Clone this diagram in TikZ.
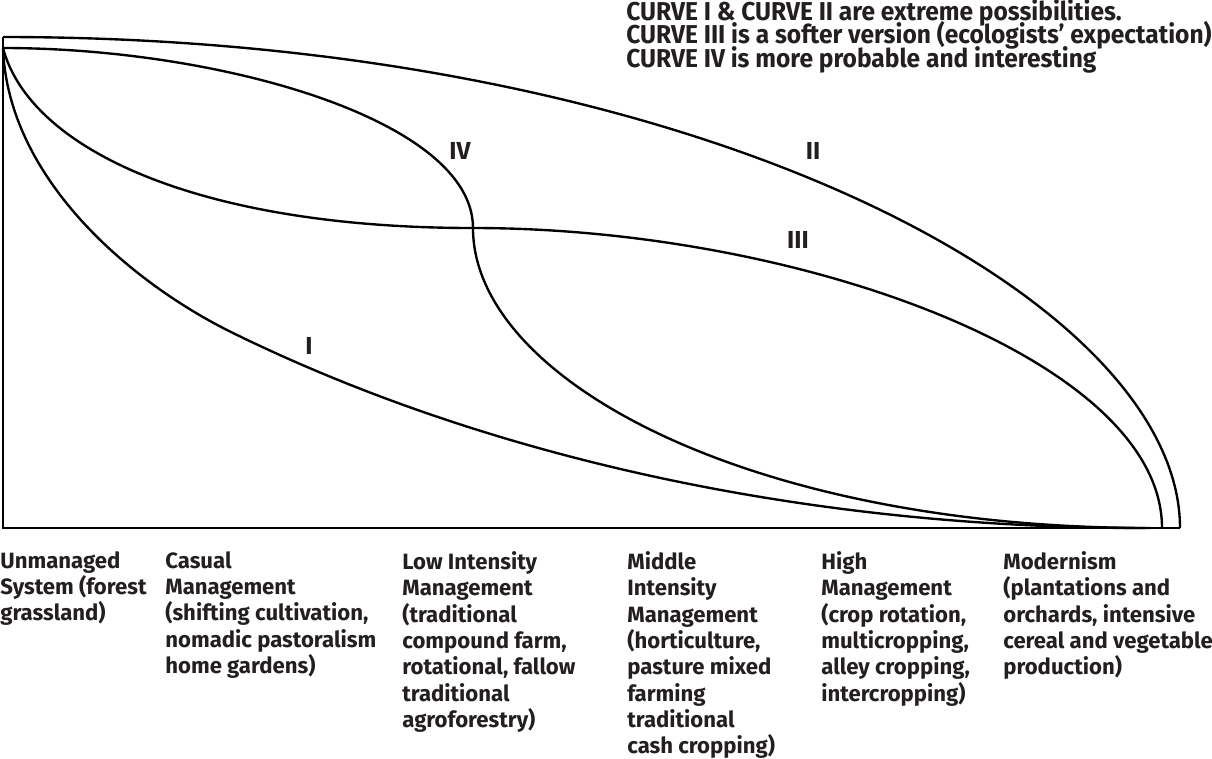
\documentclass[tikz,border=0pt]{standalone}
\usepackage{fontspec}
\setmainfont{Fira Sans}
\newfontfamily\notefont{Fira Sans}[FakeStretch=0.95]
\definecolor{txt}{HTML}{231F20}
\newcommand\mytightlines{\lineskiplimit=-20pt\relax\lineskip=0pt\relax}
\begin{document}
\begin{tikzpicture}[x=0.2mm,y=-0.2mm,
  curve/.style={line width=1.35pt,black},
  axis/.style={line width=1.5pt,black},
  lbl/.style={font=\fontsize{12.6}{15}\selectfont\bfseries,align=left,anchor=north west,inner sep=0pt,text=txt},
  note/.style={font=\notefont\fontsize{14.7}{13.4}\selectfont\bfseries\mytightlines,align=left,anchor=north west,inner sep=0pt,text=txt},
  cname/.style={font=\fontsize{14}{14}\selectfont\bfseries,inner sep=0pt,text=txt}]
\useasboundingbox (0,0) rectangle (1212,758);
% named points
\coordinate (top) at (3,37);
\coordinate (org) at (3,48);
\coordinate (base) at (3,528);
\coordinate (endII) at (1180,528);
\coordinate (endIII) at (1162,528);
\coordinate (endIV) at (1150,528);
\coordinate (endI) at (1145,528);
\coordinate (cross) at (473,228);
\coordinate (midI) at (233,333);
% axes
\draw[axis] (top) -- (base) -- (endII);
% curve II
\draw[curve] (top) .. controls (700,37) and (1180,300) .. (endII);
% curve III
\draw[curve] (org) .. controls (30,150) and (200,228) .. (cross)
  .. controls (800,228) and (1162,360) .. (endIII);
% curve IV
\draw[curve] (org) .. controls (220,48) and (473,120) .. (cross)
  .. controls (473,380) and (750,528) .. (endIV);
% curve I
\draw[curve] (org) .. controls (8,180) and (133,284) .. (midI)
  .. controls (483,455.5) and (800,528) .. (endI);
% curve names
\node[cname] (nIV) at (460,151) {IV};
\node[cname] (nII) at (813,151) {II};
\node[cname] (nIII) at (798,240) {III};
\node[cname] (nI) at (309,346) {I};
% note
\node[note] (note) at (626,-1) {CURVE I \& CURVE II are extreme possibilities.\\
CURVE III is a softer version (ecologists’ expectation)\\
CURVE IV is more probable and interesting};
% stage labels
\node[lbl] (s1) at (0,551) {Unmanaged\\System (forest\\grassland)};
\node[lbl] (s2) at (165,551) {Casual\\Management\\(shifting cultivation,\\nomadic pastoralism\\home gardens)};
\node[lbl] (s3) at (402,551) {Low Intensity\\Management\\(traditional\\compound farm,\\rotational, fallow\\traditional\\agroforestry)};
\node[lbl] (s4) at (627,551) {Middle\\Intensity\\Management\\(horticulture,\\pasture mixed\\farming\\traditional\\cash cropping)};
\node[lbl] (s5) at (821,551) {High\\Management\\(crop rotation,\\multicropping,\\alley cropping,\\intercropping)};
\node[lbl] (s6) at (1003,551) {Modernism\\(plantations and\\orchards, intensive\\cereal and vegetable\\production)};
\end{tikzpicture}
\end{document}
